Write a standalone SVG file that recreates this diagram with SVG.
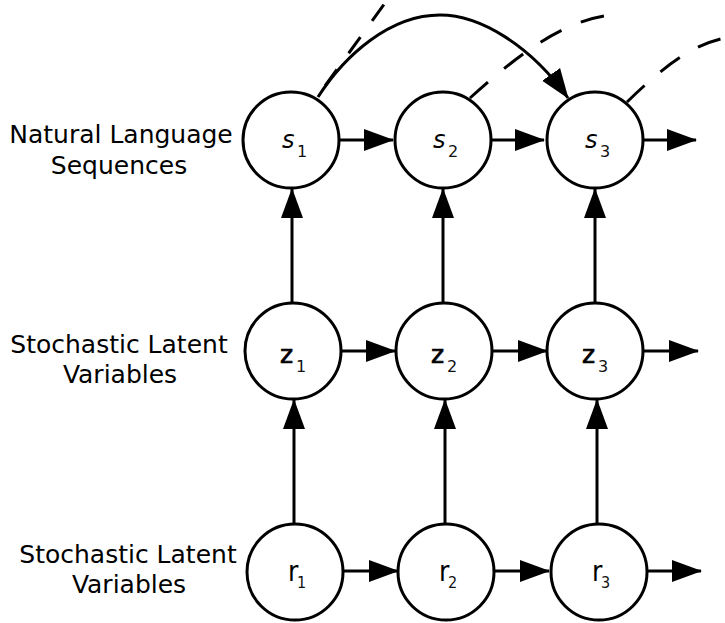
<svg xmlns="http://www.w3.org/2000/svg" width="725" height="623" viewBox="0 0 725 623">
  <style>
    .node circle { fill: #fff; stroke: #000; stroke-width: 3; }
    .lbl { font-family: "DejaVu Sans", "Liberation Sans", sans-serif; font-size: 25px; fill: #000; text-anchor: middle; }
    .var { font-family: "DejaVu Sans", "Liberation Sans", sans-serif; font-size: 24px; fill: #000; }
    .var .sub { font-size: 16px; font-style: normal; stroke: none; fill: #111; }
    .var.s { font-style: italic; }
    .var.z { font-size: 25px; stroke: #000; stroke-width: 0.7; }
    .var.r { font-family: "DejaVu Sans Condensed", "DejaVu Sans", sans-serif; font-size: 28px; }
    .edge { fill: none; stroke: #000; stroke-width: 3; }
    .arrow { marker-end: url(#head); }
    .dash { fill: none; stroke: #000; stroke-width: 3; stroke-dasharray: 24 21; }
  </style>
  <defs>
    <marker id="head" markerUnits="userSpaceOnUse" viewBox="0 0 30 24" markerWidth="30" markerHeight="24" refX="29" refY="12" orient="auto">
      <path d="M0,1 L30,12 L0,23 Z" fill="#000"/>
    </marker>
  </defs>

  <rect width="725" height="623" fill="#fff"/>

  <!-- row captions -->
  <g id="caption-sequences">
    <text class="lbl" x="121" y="143">Natural Language</text>
    <text class="lbl" x="119" y="174">Sequences</text>
  </g>
  <g id="caption-latent-z">
    <text class="lbl" x="119" y="353">Stochastic Latent</text>
    <text class="lbl" x="120" y="383">Variables</text>
  </g>
  <g id="caption-latent-r">
    <text class="lbl" x="128" y="563">Stochastic Latent</text>
    <text class="lbl" x="129" y="593">Variables</text>
  </g>

  <!-- connectors -->
  <g id="connectors">
    <!-- horizontal transitions -->
    <path class="edge arrow" d="M339,140 H393"/>
    <path class="edge arrow" d="M491,140 H544"/>
    <path class="edge arrow" d="M643,140 H696"/>
    <path class="edge arrow" d="M341,351 H395"/>
    <path class="edge arrow" d="M492,351 H547"/>
    <path class="edge arrow" d="M643,351 H698"/>
    <path class="edge arrow" d="M343,571 H398"/>
    <path class="edge arrow" d="M494,571 H549"/>
    <path class="edge arrow" d="M647,571 H701"/>
    <!-- vertical dependencies -->
    <path class="edge arrow" d="M292,303 V189"/>
    <path class="edge arrow" d="M443,303 V189"/>
    <path class="edge arrow" d="M595,303 V189"/>
    <path class="edge arrow" d="M294,524 V400"/>
    <path class="edge arrow" d="M445,524 V400"/>
    <path class="edge arrow" d="M597,524 V400"/>
    <!-- skip connection s1 -> s3 -->
    <path class="edge arrow" d="M318,97 C345,55 390,15 440,15 C480,15 530,45 568,98"/>
    <!-- long-range dashed links -->
    <path class="dash" style="stroke-dasharray:20 20;stroke-dashoffset:26" d="M317,97 L385,3"/>
    <path class="dash" d="M470,98 C510,62 560,20 612,15"/>
    <path class="dash" d="M627,102 C660,70 690,45 725,38"/>
  </g>

  <!-- sequence nodes -->
  <g id="s1" class="node"><circle cx="291" cy="140" r="48"/>
    <text class="var s" x="282" y="148">s<tspan class="sub" x="297" y="157">1</tspan></text></g>
  <g id="s2" class="node"><circle cx="443" cy="140" r="48"/>
    <text class="var s" x="433" y="148">s<tspan class="sub" x="448" y="157">2</tspan></text></g>
  <g id="s3" class="node"><circle cx="595" cy="140" r="48"/>
    <text class="var s" x="585" y="148">s<tspan class="sub" x="600" y="157">3</tspan></text></g>

  <!-- latent z nodes -->
  <g id="z1" class="node"><circle cx="293" cy="351" r="48"/>
    <text class="var z" x="280" y="363">z<tspan class="sub" x="296" y="372">1</tspan></text></g>
  <g id="z2" class="node"><circle cx="444" cy="351" r="48"/>
    <text class="var z" x="431" y="363">z<tspan class="sub" x="447" y="372">2</tspan></text></g>
  <g id="z3" class="node"><circle cx="595" cy="351" r="48"/>
    <text class="var z" x="582" y="363">z<tspan class="sub" x="598" y="372">3</tspan></text></g>

  <!-- latent r nodes -->
  <g id="r1" class="node"><circle cx="295" cy="572" r="48"/>
    <text class="var r" x="288" y="581">r<tspan class="sub" x="297" y="588">1</tspan></text></g>
  <g id="r2" class="node"><circle cx="446" cy="572" r="48"/>
    <text class="var r" x="439" y="581">r<tspan class="sub" x="448" y="588">2</tspan></text></g>
  <g id="r3" class="node"><circle cx="599" cy="572" r="48"/>
    <text class="var r" x="592" y="581">r<tspan class="sub" x="601" y="588">3</tspan></text></g>
</svg>
